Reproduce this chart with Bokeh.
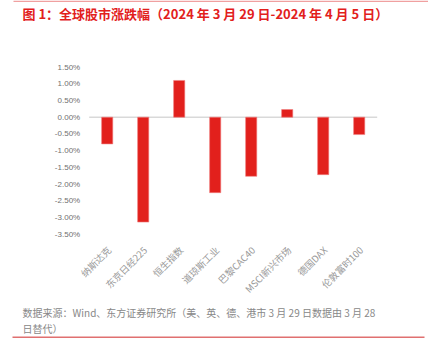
from bokeh.plotting import figure
from bokeh.models import Label, ColumnDataSource, BoxAnnotation
from bokeh.core.properties import value
from bokeh.embed import file_html
from bokeh.resources import INLINE
import math

categories = ["纳斯达克", "东京日经225", "恒生指数", "道琼斯工业", "巴黎CAC40", "MSCI新兴市场", "德国DAX", "伦敦富时100"]
values = [-0.80, -3.14, 1.10, -2.26, -1.77, 0.23, -1.72, -0.52]
y_ticks = [-3.5, -3.0, -2.5, -2.0, -1.5, -1.0, -0.5, 0.0, 0.5, 1.0, 1.5]
title_text = "图 1：全球股市涨跌幅（2024 年 3 月 29 日-2024 年 4 月 5 日）"
source_line1 = "数据来源：Wind、东方证券研究所（美、英、德、港市 3 月 29 日数据由 3 月 28"
source_line2 = "日替代）"

RED = "#e2201c"
W, H = 428, 356
# pixel geometry of the plotting area (canvas coords, from top-left)
X0_PX, STEP_PX = 106.7, 36.0        # centre of first category, category spacing
ZERO_PX, PX_PER_UNIT = 116.7, 33.4  # y of 0.00 %, pixels per 1 %

n = len(categories)
idx = list(range(n))
x_range = ((0 - X0_PX) / STEP_PX, (W - X0_PX) / STEP_PX)
y_range = (-(H - ZERO_PX) / PX_PER_UNIT, ZERO_PX / PX_PER_UNIT)

p = figure(width=W, height=H, x_range=x_range, y_range=y_range,
           output_backend="svg", toolbar_location=None,
           x_axis_type=None, y_axis_type=None,
           min_border=0, min_border_left=0, min_border_right=0, min_border_top=0, min_border_bottom=0)
p.outline_line_color = None
p.xgrid.visible = False
p.ygrid.visible = False

# zero line
p.segment(x0=[-0.5], x1=[n - 0.5], y0=[0], y1=[0], line_color="#d9d9d9", line_width=1.5)

# bars
src = ColumnDataSource(dict(x=idx, top=values))
p.vbar(x="x", top="top", bottom=0, width=0.31, source=src, fill_color=RED, line_color="#f08080", line_width=0.6)

# y tick labels
p.text(x=[-0.5] * len(y_ticks), y=y_ticks, text=[f"{t:.2f}%" for t in y_ticks],
       x_offset=-9, text_align="right", text_baseline="middle",
       text_font=value("Liberation Sans"), text_font_size="8px", text_color="#707070")

# x category labels (rotated 45°)
p.text(x=idx, y=[y_ticks[0]] * n, text=categories, angle=math.pi / 4,
       x_offset=2, y_offset=14, text_align="right", text_baseline="middle",
       text_font=value("Noto Sans CJK SC"), text_font_size="9.5px", text_color="#999999")

# header / footer
p.add_layout(BoxAnnotation(left=13, right=428, top=H, bottom=H - 1.5,
                           left_units="screen", right_units="screen", top_units="screen", bottom_units="screen",
                           fill_color="#f0a0a0", fill_alpha=1.0, line_color=None, editable=False))
p.add_layout(Label(x=22, y=H - 13, x_units="screen", y_units="screen", text=title_text,
                   text_font="Noto Sans CJK SC", text_font_size="13px", text_font_style="bold",
                   text_color=RED, text_baseline="middle"))
p.add_layout(Label(x=22, y=H - 312, x_units="screen", y_units="screen", text=source_line1,
                   text_font="Noto Sans CJK SC", text_font_size="10px",
                   text_color="#888888", text_baseline="middle"))
p.add_layout(Label(x=22, y=H - 328, x_units="screen", y_units="screen", text=source_line2,
                   text_font="Noto Sans CJK SC", text_font_size="10px",
                   text_color="#888888", text_baseline="middle"))
p.add_layout(BoxAnnotation(left=12, right=424, top=H - 336, bottom=H - 337.5,
                           left_units="screen", right_units="screen", top_units="screen", bottom_units="screen",
                           fill_color="#e07070", fill_alpha=1.0, line_color=None, editable=False))

open("out.html", "w").write(file_html(p, INLINE))
